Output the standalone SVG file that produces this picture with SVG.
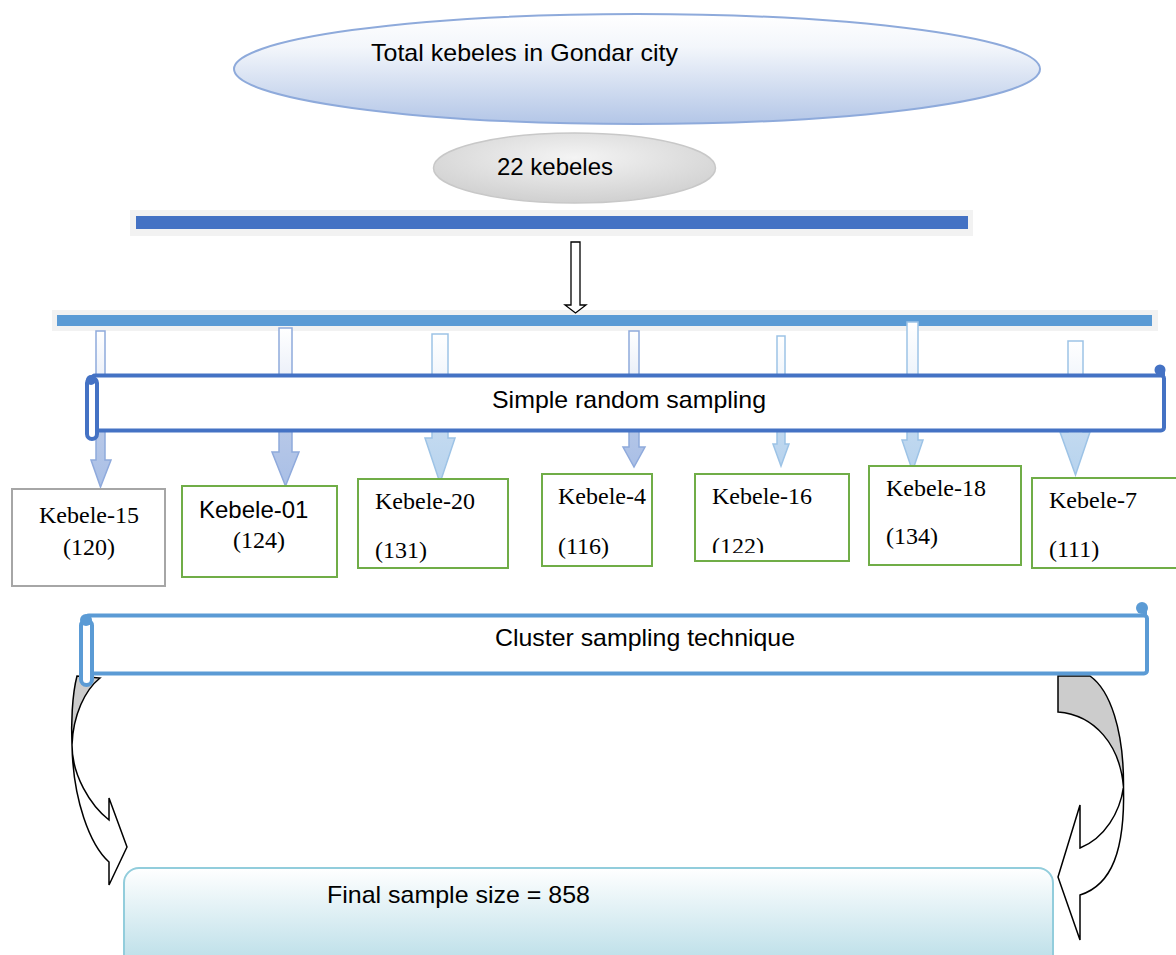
<svg xmlns="http://www.w3.org/2000/svg" width="1176" height="955" viewBox="0 0 1176 955">
<defs>
<linearGradient id="gBlueEll" x1="0" y1="0" x2="0" y2="1">
<stop offset="0" stop-color="#ffffff"/><stop offset="0.3" stop-color="#f3f6fb"/><stop offset="1" stop-color="#b3c6e7"/>
</linearGradient>
<radialGradient id="gGrayEll" cx="0.5" cy="0.35" r="0.7">
<stop offset="0" stop-color="#f4f4f4"/><stop offset="1" stop-color="#cdcdcd"/>
</radialGradient>
<linearGradient id="gFinal" x1="0" y1="0" x2="0" y2="1">
<stop offset="0" stop-color="#ffffff"/><stop offset="1" stop-color="#b4dbe6"/>
</linearGradient>
<linearGradient id="gArrA" x1="0" y1="0" x2="0" y2="1">
<stop offset="0" stop-color="#ffffff"/><stop offset="0.35" stop-color="#e9eef8"/><stop offset="0.6" stop-color="#b9c9e8"/><stop offset="1" stop-color="#a9bfe6"/>
</linearGradient>
<linearGradient id="gArrB" x1="0" y1="0" x2="0" y2="1">
<stop offset="0" stop-color="#ffffff"/><stop offset="0.35" stop-color="#eef4fb"/><stop offset="0.6" stop-color="#c5dbf0"/><stop offset="1" stop-color="#b7d3ee"/>
</linearGradient>
<clipPath id="clip16"><rect x="690" y="470" width="165" height="83"/></clipPath>
</defs>
<style>
.sans{font-family:"Liberation Sans",Arial,sans-serif;fill:#000}
.serif{font-family:"Liberation Serif","Times New Roman",serif;fill:#000}
.kb{fill:#fff;stroke:#70ad47;stroke-width:2}
.arrA{fill:url(#gArrA);stroke:#8faadc;stroke-width:1.5}
.arrB{fill:url(#gArrB);stroke:#9dc3e6;stroke-width:1.5}
.curve{stroke:#000;stroke-width:1.5;stroke-linejoin:miter}
</style>
<rect width="1176" height="955" fill="#fff"/>

<g id="total-kebeles">
<ellipse cx="637" cy="69" rx="403" ry="55" fill="url(#gBlueEll)" stroke="#8eaadb" stroke-width="2"/>
<text class="sans" x="371" y="61" font-size="24" textLength="307" lengthAdjust="spacingAndGlyphs">Total kebeles in Gondar city</text>
</g>

<g id="kebeles-22">
<ellipse cx="574.5" cy="168" rx="141" ry="35" fill="url(#gGrayEll)" stroke="#c8c8c8" stroke-width="1.5"/>
<text class="sans" x="497" y="175" font-size="24" textLength="116" lengthAdjust="spacingAndGlyphs">22 kebeles</text>
</g>

<g id="bar-top">
<rect x="130" y="210" width="843" height="26" fill="#f2f2f2"/>
<rect x="136" y="216" width="832" height="13" fill="#4472c4"/>
</g>

<g id="bar-branch">
<rect x="52" y="310" width="1106" height="21" fill="#f2f2f2"/>
<rect x="57" y="315" width="1095" height="11" fill="#5b9bd5"/>
</g>

<g id="connectors">
<path d="M571,242 H580 V305 H586 L575.5,313 L565,305 H571 Z" fill="#fff" stroke="#000" stroke-width="1.3"/>
<path class="arrA" d="M96,331 H105 V460 H111 L100.5,487 L91,460 H96 Z"/>
<path class="arrA" d="M279,328 H292 V452 H299 L285.5,486 L272,452 H279 Z"/>
<path class="arrB" d="M432,334 H448 V438 H455 L440,483 L425,438 H432 Z"/>
<path class="arrA" d="M629,331 H639 V447 H645 L634,467 L623,447 H629 Z"/>
<path class="arrB" d="M777,336 H785 V444 H789 L781,466 L773,444 H777 Z"/>
<path class="arrB" d="M907,322 H918 V440 H923 L912.5,471 L902,440 H907 Z"/>
<path class="arrB" d="M1068,341 H1083 V432 H1090 L1075.5,475 L1060,432 H1068 Z"/>
</g>

<g id="simple-random-sampling">
<rect x="92" y="375.5" width="1072" height="55" rx="3" fill="#fff" stroke="#4472c4" stroke-width="4"/>
<rect x="87" y="378" width="10" height="61" rx="5" fill="#fff" stroke="#4472c4" stroke-width="4"/>
<circle cx="91" cy="380" r="5" fill="#4472c4"/>
<circle cx="1160" cy="370" r="5.5" fill="#4472c4"/>
<path d="M1163,369 V377" stroke="#4472c4" stroke-width="4"/>
<text class="sans" x="629" y="408" font-size="24" text-anchor="middle" textLength="274" lengthAdjust="spacingAndGlyphs">Simple random sampling</text>
</g>

<g id="kebele-15">
<rect x="12" y="489" width="153" height="97" fill="#fff" stroke="#a6a6a6" stroke-width="2"/>
<text class="serif" x="89" y="523" font-size="24" text-anchor="middle">Kebele-15</text>
<text class="serif" x="89" y="555" font-size="24" text-anchor="middle">(120)</text>
</g>
<g id="kebele-01">
<rect class="kb" x="182" y="486" width="155" height="91"/>
<text class="sans" x="199" y="518" font-size="24">Kebele-01</text>
<text class="serif" x="233" y="548" font-size="24">(124)</text>
</g>
<g id="kebele-20">
<rect class="kb" x="358" y="479" width="150" height="89"/>
<text class="serif" x="375" y="509" font-size="24">Kebele-20</text>
<text class="serif" x="375" y="558" font-size="24">(131)</text>
</g>
<g id="kebele-4">
<rect class="kb" x="542" y="474" width="110" height="92"/>
<text class="serif" x="558" y="504" font-size="24">Kebele-4</text>
<text class="serif" x="558" y="554" font-size="24">(116)</text>
</g>
<g id="kebele-16">
<rect class="kb" x="695" y="474" width="154" height="87"/>
<text class="serif" x="712" y="504" font-size="24">Kebele-16</text>
<text class="serif" x="712" y="554" font-size="24" clip-path="url(#clip16)">(122)</text>
</g>
<g id="kebele-18">
<rect class="kb" x="869" y="466" width="152" height="99"/>
<text class="serif" x="886" y="496" font-size="24">Kebele-18</text>
<text class="serif" x="886" y="544" font-size="24">(134)</text>
</g>
<g id="kebele-7">
<rect class="kb" x="1032" y="478" width="150" height="90"/>
<text class="serif" x="1049" y="508" font-size="24">Kebele-7</text>
<text class="serif" x="1049" y="557" font-size="24">(111)</text>
</g>

<g id="curved-arrows">
<path class="curve" fill="#cccccc" d="M77,676 C72,695 71,725 72,745 C73,715 85,690 100,678 Z"/>
<path class="curve" fill="#fff" d="M72,745 C73,800 90,845 109,862 L109,885 L127,847 L109,798 L109,820 C90,805 72,775 72,745 Z"/>
<path class="curve" fill="#cccccc" d="M1058,676 L1058,712 C1095,715 1120,745 1123.5,787 C1124,730 1110,690 1090,676 Z"/>
<path class="curve" fill="#fff" d="M1123.5,787 C1120,812 1105,838 1080,848 L1080,805 L1058,877 L1080,940 L1080,895 C1112,885 1125,850 1123.5,787 Z"/>
</g>

<g id="cluster-sampling">
<rect x="86" y="615.5" width="1061" height="58" rx="3" fill="#fff" stroke="#5b9bd5" stroke-width="4"/>
<rect x="81" y="620" width="11" height="65" rx="5.5" fill="#fff" stroke="#5b9bd5" stroke-width="4"/>
<circle cx="86" cy="620" r="6" fill="#5b9bd5"/>
<circle cx="1142" cy="608" r="6" fill="#5b9bd5"/>
<path d="M1145,607 V617" stroke="#5b9bd5" stroke-width="4"/>
<text class="sans" x="645" y="646" font-size="24" text-anchor="middle" textLength="300" lengthAdjust="spacingAndGlyphs">Cluster sampling technique</text>
</g>

<g id="final-sample">
<rect x="124" y="868" width="929" height="105" rx="15" fill="url(#gFinal)" stroke="#92cddc" stroke-width="2"/>
<text class="sans" x="327" y="903" font-size="24" textLength="263" lengthAdjust="spacingAndGlyphs">Final sample size = 858</text>
</g>
</svg>
